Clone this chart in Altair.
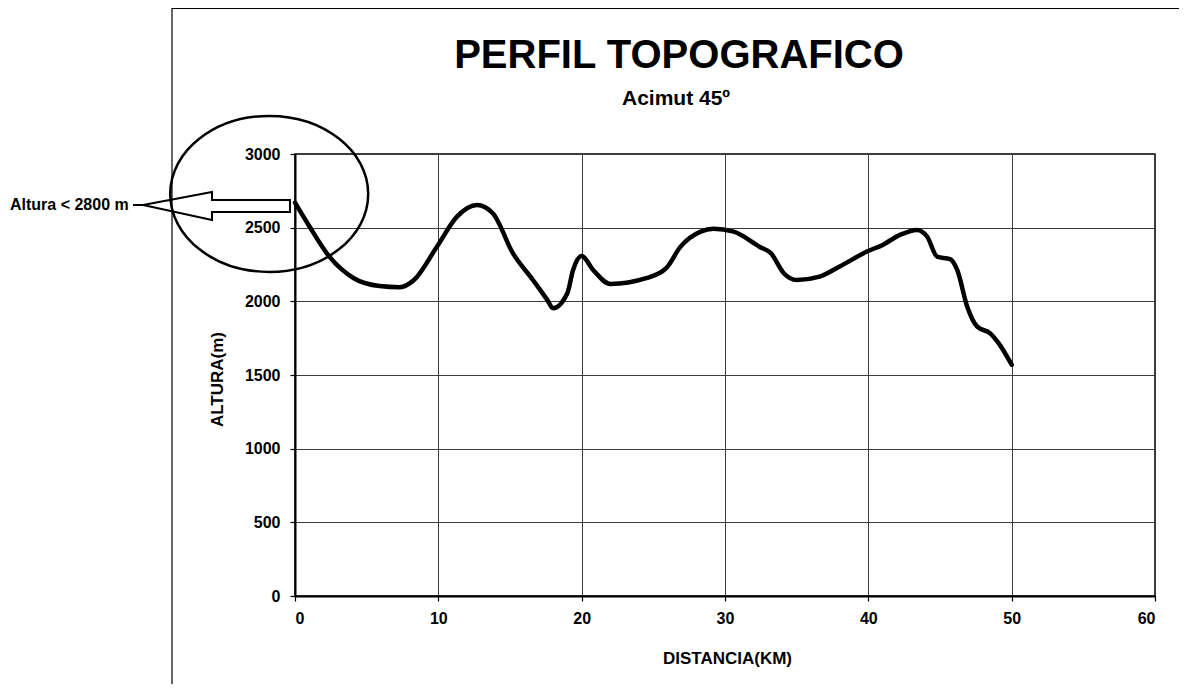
import altair as alt
import pandas as pd

# ---------------- data ----------------
distancia_km = [0.0, 1.0, 2.4, 4.1, 5.9, 7.3, 8.3, 9.9, 11.3, 12.7, 13.8, 15.2, 16.6,
                17.6, 18.0, 19.0, 19.4, 20.0, 20.8, 22.0, 24.5, 25.9, 26.9, 28.3,
                29.2, 30.6, 32.4, 33.2, 34.1, 35.0, 36.6, 38.0, 39.9, 41.0, 42.2,
                43.4, 44.1, 44.8, 45.7, 46.2, 46.9, 47.6, 48.5, 49.1, 50.0]
altura_m = [2670, 2510, 2303, 2157, 2104, 2096, 2145, 2371, 2575, 2654, 2598, 2327, 2145,
            2010, 1953, 2055, 2213, 2308, 2213, 2118, 2157, 2225, 2371, 2473,
            2492, 2473, 2371, 2327, 2191, 2145, 2168, 2236, 2338, 2383, 2451,
            2485, 2440, 2303, 2286, 2213, 1964, 1828, 1783, 1715, 1570]

x_ticks = [0, 10, 20, 30, 40, 50, 60]
y_ticks = [0, 500, 1000, 1500, 2000, 2500, 3000]

title_text = "PERFIL TOPOGRAFICO"
subtitle_text = "Acimut  45º"
x_title = "DISTANCIA(KM)"
y_title = "ALTURA(m)"
annot_text = "Altura < 2800 m"

# annotation geometry (data units: km, m)
ellipse_x = [-1.8]
ellipse_y = [2729]
arrow_x = [-10.6, -5.79, -5.79, -0.35, -0.35, -5.79, -5.79, -10.6]
arrow_y = [2654, 2742, 2688, 2688, 2606, 2606, 2552, 2654]
leader_x = [-11.3, -10.6]
leader_y = [2654, 2654]
label_x = [-11.6]
label_y = [2654]

# ---------------- tables ----------------
df = pd.DataFrame({"dist": distancia_km, "alt": altura_m})
ell_df = pd.DataFrame({"dist": ellipse_x, "alt": ellipse_y})
arrow_df = pd.DataFrame({
    "dist": arrow_x + leader_x,
    "alt": arrow_y + leader_y,
    "part": ["arrow"] * len(arrow_x) + ["leader"] * len(leader_x),
    "ord": list(range(len(arrow_x))) + list(range(len(leader_x))),
})
lab_df = pd.DataFrame({"dist": label_x, "alt": label_y, "t": [annot_text]})

X = alt.X("dist:Q",
          scale=alt.Scale(domain=[0, 60], nice=False, zero=False),
          axis=alt.Axis(values=x_ticks, title=x_title, grid=True, format="d",
                        titleX=432, titleY=67, titleBaseline="alphabetic",
                        labelPadding=9, tickSize=5))
Y = alt.Y("alt:Q",
          scale=alt.Scale(domain=[0, 3000], nice=False, zero=False),
          axis=alt.Axis(values=y_ticks, title=y_title, grid=True, format="d",
                        titleX=-73, titleY=225, titleAngle=-90,
                        titleBaseline="alphabetic", titleAlign="center",
                        labelPadding=10, tickSize=5))

line = alt.Chart(df).mark_line(
    color="black", strokeWidth=4.5, interpolate="monotone",
    strokeCap="round", strokeJoin="round", clip=False
).encode(x=X, y=Y)

ellipse = alt.Chart(ell_df).mark_point(
    shape="M-1,0A1,0.788,0,1,1,1,0A1,0.788,0,1,1,-1,0Z",
    size=39204, filled=False, color="black", strokeWidth=2.5,
    opacity=1, clip=False
).encode(x=X, y=Y)

arrow = alt.Chart(arrow_df).mark_line(
    color="black", strokeWidth=2, strokeJoin="miter", clip=False
).encode(x=X, y=Y, detail="part:N", order="ord:Q")

label = alt.Chart(lab_df).mark_text(
    align="right", baseline="middle", font="Liberation Sans",
    fontWeight="bold", fontSize=16, color="black", clip=False
).encode(x=X, y=Y, text="t:N")

one = pd.DataFrame({"k": [0]})
frame_left = alt.Chart(one).mark_rule(color="black", strokeWidth=1.2).encode(
    x=alt.value(-123), y=alt.value(-146), y2=alt.value(530))
frame_top = alt.Chart(one).mark_rule(color="black", strokeWidth=2).encode(
    x=alt.value(-123), x2=alt.value(892), y=alt.value(-146))

title = alt.Chart(pd.DataFrame({"t": [title_text]})).mark_text(
    align="center", baseline="alphabetic", font="Liberation Sans",
    fontWeight="bold", fontSize=40, color="black"
).encode(text="t:N", x=alt.value(384), y=alt.value(-86))

subtitle = alt.Chart(pd.DataFrame({"t": [subtitle_text]})).mark_text(
    align="center", baseline="alphabetic", font="Liberation Sans",
    fontWeight="bold", fontSize=21, color="black"
).encode(text="t:N", x=alt.value(381), y=alt.value(-49))

chart = alt.layer(
    frame_left, frame_top, line, ellipse, arrow, label, title, subtitle
).properties(
    width=860, height=442,
    padding={"left": 287, "top": 146, "right": 24, "bottom": 88},
    autosize=alt.AutoSizeParams(type="none"),
    background="white",
).configure_view(
    stroke="black", strokeWidth=1.5
).configure_axis(
    domainColor="black", domainWidth=2,
    gridColor="#3a3a3a", gridWidth=1, gridOpacity=1,
    tickColor="black", tickWidth=1.2,
    labelFont="Liberation Sans", labelFontWeight="bold", labelFontSize=16,
    labelColor="black",
    titleFont="Liberation Sans", titleFontWeight="bold", titleFontSize=17,
    titleColor="black",
)

chart.save("out.html", embed_options={"renderer": "svg", "actions": False})
